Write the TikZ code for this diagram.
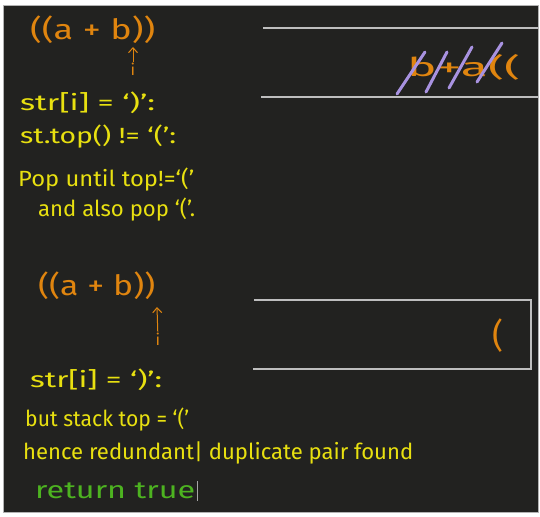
\documentclass[tikz,border=0pt]{standalone}
\usepackage{fontspec}
\setmainfont{Fira Sans}
\usepackage{graphicx}
\usetikzlibrary{arrows.meta}
\definecolor{board}{HTML}{222220}
\definecolor{chalkyellow}{HTML}{E8E010}
\definecolor{chalkorange}{HTML}{E0850F}
\definecolor{chalkgreen}{HTML}{4DB320}
\definecolor{chalkpurple}{HTML}{A892E0}
\definecolor{chalkgray}{HTML}{BEBEBE}
% Handschrift in die Breite ziehen
\newcommand{\chalk}[2]{\resizebox{#1pt}{\height}{#2}}

\begin{document}
\begin{tikzpicture}[>={Straight Barb[length=5pt,width=9pt]},x=1pt,y=-1pt,
  note/.style={anchor=west,inner sep=0pt,chalkyellow,font=\fontsize{22}{24}\selectfont},
  expr/.style={anchor=west,inner sep=0pt,chalkorange,font=\fontsize{28}{30}\selectfont},
  idx/.style={inner sep=1pt,chalkorange,font=\fontsize{16}{18}\selectfont},
  wall/.style={chalkgray,line width=1.3pt}]
  % Tafel
  \fill[white] (0,0) rectangle (540,516);
  \filldraw[fill=board,draw=gray!60] (3,5) rectangle (538,512);
  % erster Fall
  \node[expr] (expr1) at (30,30) {\chalk{125}{((a + b))}};
  \node[idx] (i1) at (133,69) {i};
  \coordinate (p1) at (133,47);
  \draw[->,chalkorange,line width=1pt] (i1) -- (p1);
  \node[note] (line1) at (20,103) {\chalk{135}{str[i] = `)':}};
  \node[note] (line2) at (20,137) {\chalk{156}{st.top() != `(':}};
  \node[note] (line3) at (18,180) {\chalk{176}{Pop until top!=`('}};
  \node[note] (line4) at (38,210) {\chalk{157}{and also pop `('.}};
  % Stack 1
  \draw[wall] (263,28) -- (538,28);
  \draw[wall] (261,97) -- (538,97);
  \node[expr,font=\fontsize{26}{28}\selectfont] (stack1) at (407,67) {\chalk{113}{b+a((}};
  \foreach \xa/\ya/\xb/\yb in {397/94/425/52, 426/92/447/52, 449/88/472/47, 477/82/502/43} {
    \draw[chalkpurple,line width=3pt,line cap=round] (\xa,\ya) -- (\xb,\yb);
  }
  % zweiter Fall
  \node[expr] (expr2) at (38,286) {\chalk{117}{((a + b))}};
  \node[idx] (i2) at (158,339) {i};
  \coordinate (p2) at (157,307);
  \draw[->,chalkorange,line width=1pt] (i2) -- (p2);
  \node[note] (line5) at (30,380) {\chalk{132}{str[i] = `)':}};
  \node[note] (line6) at (25,420) {\chalk{164}{but stack top = `('}};
  \node[note] (line7) at (23,453) {\chalk{390}{hence redundant| duplicate pair found}};
  \node[note,chalkgreen,font=\fontsize{24}{26}\selectfont] (line8) at (35,491) {\chalk{160}{return true}};
  \draw[gray!70,thin] (line8.east) ++(2,-10) -- ++(0,20);
  % Stack 2
  \draw[wall] (254,300) -- (531,300) -- (531,369) -- (253,369);
  \node[expr,font=\fontsize{34}{36}\selectfont] (stack2) at (492,336) {(};
\end{tikzpicture}
\end{document}
